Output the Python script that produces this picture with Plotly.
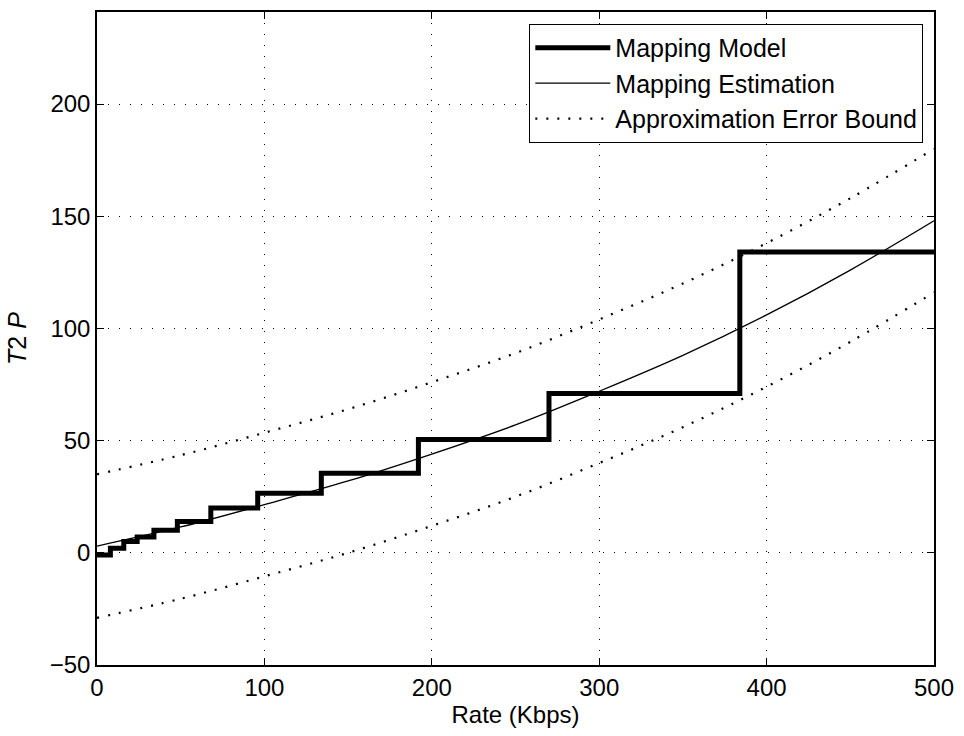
import plotly.graph_objects as go

# Mapping model (staircase): rate breakpoints and T2P levels
step_rate = [0, 8, 16, 24, 34, 48, 68, 96, 134, 192, 270, 384, 500]
step_t2p = [-1, 2, 5, 7, 10, 14, 20, 26.5, 35.5, 50.5, 71, 134, 134]

# Mapping estimation (smooth curve) and error bounds
est_rate = [0, 50, 100, 150, 200, 250, 300, 350, 400, 450, 500]
est_t2p = [3, 11.5, 21.5, 32, 44, 57, 72, 88, 106, 126, 148]
upper_t2p = [35, 43.5, 53.5, 64, 76, 89, 104, 120, 138, 158, 180]
lower_t2p = [-29, -20.5, -10.5, 0, 12, 25, 40, 56, 74, 94, 116]

x_ticks = [0, 100, 200, 300, 400, 500]
y_ticks = [-50, 0, 50, 100, 150, 200]

font = "Liberation Sans, Arial, Helvetica, sans-serif"

fig = go.Figure()
fig.add_trace(go.Scatter(x=step_rate, y=step_t2p, mode="lines", line_shape="hv",
                         line=dict(color="black", width=5), name="Mapping Model"))
fig.add_trace(go.Scatter(x=est_rate, y=est_t2p, mode="lines", line_shape="spline",
                         line=dict(color="black", width=1.3), name="Mapping Estimation"))
fig.add_trace(go.Scatter(x=est_rate, y=upper_t2p, mode="lines", line_shape="spline",
                         line=dict(color="black", width=2.2, dash="2px,9px"),
                         name="Approximation Error Bound"))
fig.add_trace(go.Scatter(x=est_rate, y=lower_t2p, mode="lines", line_shape="spline",
                         line=dict(color="black", width=2.2, dash="2px,9px"),
                         name="Approximation Error Bound", showlegend=False))

axis_common = dict(showline=True, linecolor="black", linewidth=1.5, mirror="ticks",
                   ticks="inside", ticklen=7, tickcolor="black", tickwidth=1.2,
                   showgrid=True, gridcolor="black", gridwidth=1, griddash="1px,10px",
                   zeroline=False, tickfont=dict(size=24, color="black", family=font))

fig.update_xaxes(range=[0, 500], tickvals=x_ticks,
                 title=dict(text="Rate (Kbps)", font=dict(size=24, color="black", family=font), standoff=6),
                 **axis_common)
fig.update_yaxes(range=[-50, 241], tickvals=y_ticks,
                 title=dict(text="<i>T</i>2 <i>P</i>", font=dict(size=25, color="black", family=font), standoff=16),
                 **axis_common)

fig.update_layout(
    width=964, height=736,
    margin=dict(l=97, r=27, t=10, b=71),
    paper_bgcolor="white", plot_bgcolor="white",
    font=dict(family=font, color="black"),
    legend=dict(x=0.987, y=0.982, xanchor="right", yanchor="top",
                bgcolor="white", bordercolor="black", borderwidth=1.2,
                font=dict(size=25, color="black", family=font),
                itemwidth=75, tracegroupgap=0),
    showlegend=True,
)

fig.write_html("out.html")
